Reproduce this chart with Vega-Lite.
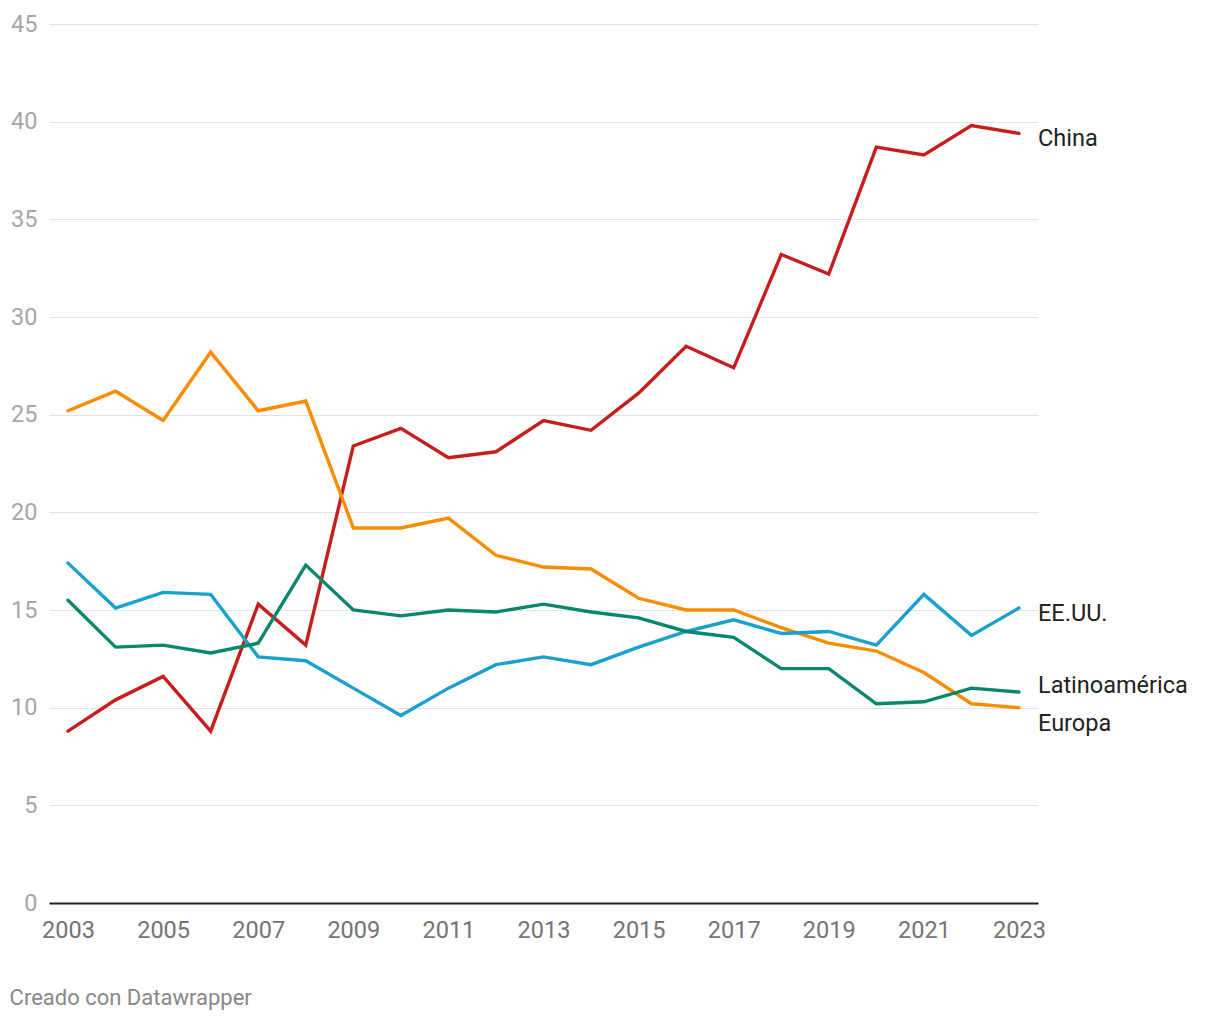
{
  "$schema": "https://vega.github.io/schema/vega-lite/v6.json",
  "width": 989,
  "height": 879,
  "autosize": {"type": "none"},
  "padding": {"left": 49, "top": 24, "right": 182, "bottom": 117},
  "background": "#ffffff",
  "config": {
    "font": "Roboto",
    "view": {"stroke": null},
    "title": {"font": "Roboto"}
  },
  "title": {
    "text": "Creado con Datawrapper",
    "orient": "bottom",
    "anchor": "start",
    "frame": "bounds",
    "fontSize": 22,
    "fontWeight": "normal",
    "color": "#888888",
    "offset": 46,
    "dx": -1
  },
  "data": {
    "values": [
      {"year": 2003, "region": "China", "value": 8.8},
      {"year": 2004, "region": "China", "value": 10.4},
      {"year": 2005, "region": "China", "value": 11.6},
      {"year": 2006, "region": "China", "value": 8.8},
      {"year": 2007, "region": "China", "value": 15.3},
      {"year": 2008, "region": "China", "value": 13.2},
      {"year": 2009, "region": "China", "value": 23.4},
      {"year": 2010, "region": "China", "value": 24.3},
      {"year": 2011, "region": "China", "value": 22.8},
      {"year": 2012, "region": "China", "value": 23.1},
      {"year": 2013, "region": "China", "value": 24.7},
      {"year": 2014, "region": "China", "value": 24.2},
      {"year": 2015, "region": "China", "value": 26.1},
      {"year": 2016, "region": "China", "value": 28.5},
      {"year": 2017, "region": "China", "value": 27.4},
      {"year": 2018, "region": "China", "value": 33.2},
      {"year": 2019, "region": "China", "value": 32.2},
      {"year": 2020, "region": "China", "value": 38.7},
      {"year": 2021, "region": "China", "value": 38.3},
      {"year": 2022, "region": "China", "value": 39.8},
      {"year": 2023, "region": "China", "value": 39.4},
      {"year": 2003, "region": "Europa", "value": 25.2},
      {"year": 2004, "region": "Europa", "value": 26.2},
      {"year": 2005, "region": "Europa", "value": 24.7},
      {"year": 2006, "region": "Europa", "value": 28.2},
      {"year": 2007, "region": "Europa", "value": 25.2},
      {"year": 2008, "region": "Europa", "value": 25.7},
      {"year": 2009, "region": "Europa", "value": 19.2},
      {"year": 2010, "region": "Europa", "value": 19.2},
      {"year": 2011, "region": "Europa", "value": 19.7},
      {"year": 2012, "region": "Europa", "value": 17.8},
      {"year": 2013, "region": "Europa", "value": 17.2},
      {"year": 2014, "region": "Europa", "value": 17.1},
      {"year": 2015, "region": "Europa", "value": 15.6},
      {"year": 2016, "region": "Europa", "value": 15.0},
      {"year": 2017, "region": "Europa", "value": 15.0},
      {"year": 2018, "region": "Europa", "value": 14.1},
      {"year": 2019, "region": "Europa", "value": 13.3},
      {"year": 2020, "region": "Europa", "value": 12.9},
      {"year": 2021, "region": "Europa", "value": 11.8},
      {"year": 2022, "region": "Europa", "value": 10.2},
      {"year": 2023, "region": "Europa", "value": 10.0},
      {"year": 2003, "region": "EE.UU.", "value": 17.4},
      {"year": 2004, "region": "EE.UU.", "value": 15.1},
      {"year": 2005, "region": "EE.UU.", "value": 15.9},
      {"year": 2006, "region": "EE.UU.", "value": 15.8},
      {"year": 2007, "region": "EE.UU.", "value": 12.6},
      {"year": 2008, "region": "EE.UU.", "value": 12.4},
      {"year": 2009, "region": "EE.UU.", "value": 11.0},
      {"year": 2010, "region": "EE.UU.", "value": 9.6},
      {"year": 2011, "region": "EE.UU.", "value": 11.0},
      {"year": 2012, "region": "EE.UU.", "value": 12.2},
      {"year": 2013, "region": "EE.UU.", "value": 12.6},
      {"year": 2014, "region": "EE.UU.", "value": 12.2},
      {"year": 2015, "region": "EE.UU.", "value": 13.1},
      {"year": 2016, "region": "EE.UU.", "value": 13.9},
      {"year": 2017, "region": "EE.UU.", "value": 14.5},
      {"year": 2018, "region": "EE.UU.", "value": 13.8},
      {"year": 2019, "region": "EE.UU.", "value": 13.9},
      {"year": 2020, "region": "EE.UU.", "value": 13.2},
      {"year": 2021, "region": "EE.UU.", "value": 15.8},
      {"year": 2022, "region": "EE.UU.", "value": 13.7},
      {"year": 2023, "region": "EE.UU.", "value": 15.1},
      {"year": 2003, "region": "Latinoamérica", "value": 15.5},
      {"year": 2004, "region": "Latinoamérica", "value": 13.1},
      {"year": 2005, "region": "Latinoamérica", "value": 13.2},
      {"year": 2006, "region": "Latinoamérica", "value": 12.8},
      {"year": 2007, "region": "Latinoamérica", "value": 13.3},
      {"year": 2008, "region": "Latinoamérica", "value": 17.3},
      {"year": 2009, "region": "Latinoamérica", "value": 15.0},
      {"year": 2010, "region": "Latinoamérica", "value": 14.7},
      {"year": 2011, "region": "Latinoamérica", "value": 15.0},
      {"year": 2012, "region": "Latinoamérica", "value": 14.9},
      {"year": 2013, "region": "Latinoamérica", "value": 15.3},
      {"year": 2014, "region": "Latinoamérica", "value": 14.9},
      {"year": 2015, "region": "Latinoamérica", "value": 14.6},
      {"year": 2016, "region": "Latinoamérica", "value": 13.9},
      {"year": 2017, "region": "Latinoamérica", "value": 13.6},
      {"year": 2018, "region": "Latinoamérica", "value": 12.0},
      {"year": 2019, "region": "Latinoamérica", "value": 12.0},
      {"year": 2020, "region": "Latinoamérica", "value": 10.2},
      {"year": 2021, "region": "Latinoamérica", "value": 10.3},
      {"year": 2022, "region": "Latinoamérica", "value": 11.0},
      {"year": 2023, "region": "Latinoamérica", "value": 10.8}
    ]
  },
  "encoding": {
    "x": {
      "field": "year",
      "type": "quantitative",
      "scale": {"domain": [2002.6, 2023.4], "nice": false, "zero": false},
      "axis": {
        "title": null,
        "values": [2003, 2005, 2007, 2009, 2011, 2013, 2015, 2017, 2019, 2021, 2023],
        "format": "d",
        "grid": false,
        "ticks": false,
        "domain": true,
        "domainColor": "#222222",
        "domainWidth": 2,
        "labelFontSize": 23.5,
        "labelColor": "#747474",
        "labelPadding": 15,
        "labelFont": "Roboto"
      }
    },
    "y": {
      "field": "value",
      "type": "quantitative",
      "scale": {"domain": [0, 45], "nice": false},
      "axis": {
        "title": null,
        "values": [0, 5, 10, 15, 20, 25, 30, 35, 40, 45],
        "grid": true,
        "gridColor": "#e3e3e3",
        "gridWidth": 1,
        "ticks": false,
        "domain": false,
        "labelFontSize": 23.5,
        "labelColor": "#a6a6a6",
        "labelPadding": 12,
        "labelFont": "Roboto"
      }
    },
    "color": {
      "field": "region",
      "type": "nominal",
      "scale": {
        "domain": ["China", "Europa", "EE.UU.", "Latinoamérica"],
        "range": ["#c71e1d", "#fa8c00", "#18a1cd", "#09876c"]
      },
      "legend": null
    }
  },
  "layer": [
    {
      "mark": {"type": "line", "strokeWidth": 3.4, "strokeJoin": "miter", "strokeCap": "round"}
    },
    {
      "transform": [{"filter": "datum.year == 2023 && (datum.region == 'China' || datum.region == 'EE.UU.')"}],
      "mark": {"type": "text", "align": "left", "baseline": "middle", "dx": 19, "dy": 6, "fontSize": 23.5, "font": "Roboto"},
      "encoding": {"text": {"field": "region"}, "color": {"value": "#222222"}}
    },
    {
      "transform": [{"filter": "datum.year == 2023 && datum.region == 'Latinoamérica'"}],
      "mark": {"type": "text", "align": "left", "baseline": "middle", "dx": 19, "dy": -6, "fontSize": 23.5, "font": "Roboto"},
      "encoding": {"text": {"field": "region"}, "color": {"value": "#222222"}}
    },
    {
      "transform": [{"filter": "datum.year == 2023 && datum.region == 'Europa'"}],
      "mark": {"type": "text", "align": "left", "baseline": "middle", "dx": 19, "dy": 16, "fontSize": 23.5, "font": "Roboto"},
      "encoding": {"text": {"field": "region"}, "color": {"value": "#222222"}}
    }
  ]
}
